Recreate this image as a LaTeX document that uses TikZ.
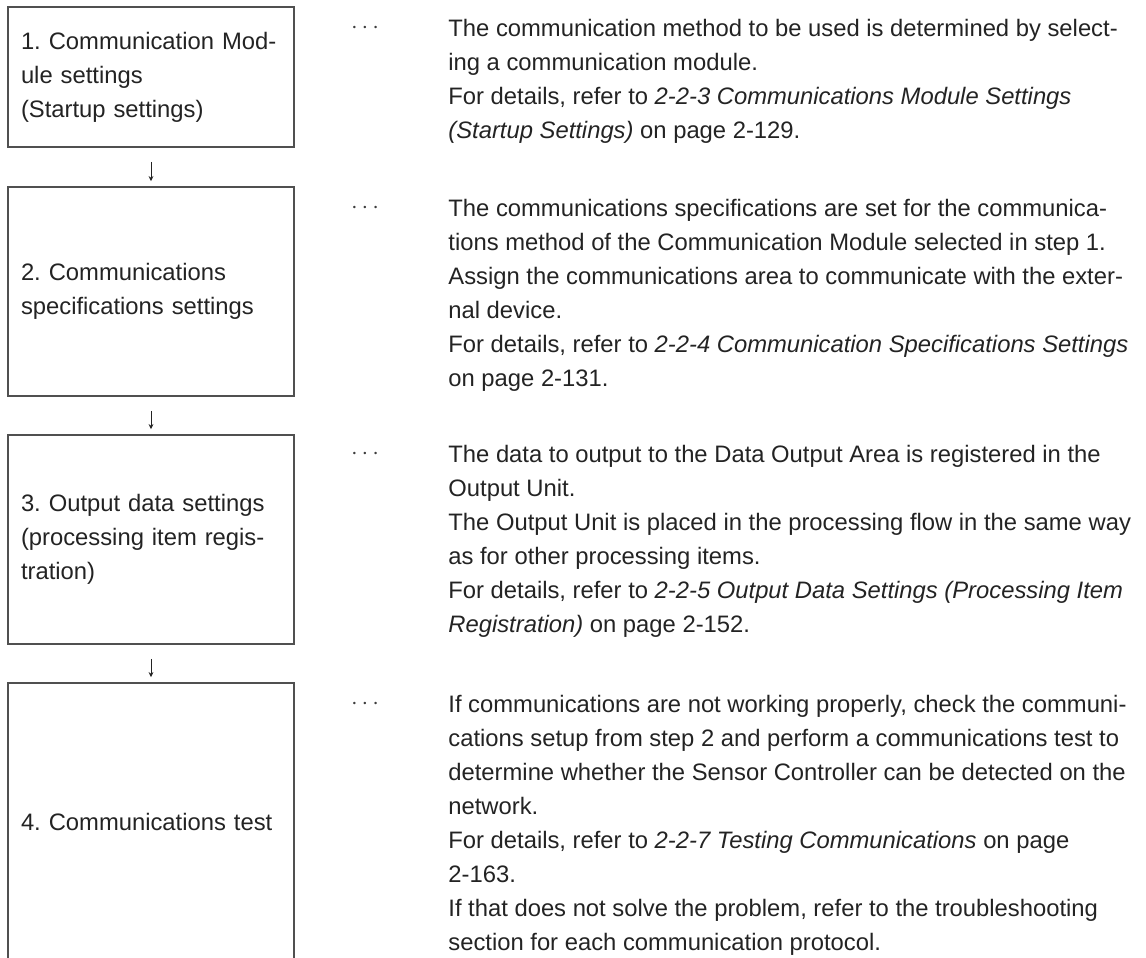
\documentclass[tikz,border=0pt]{standalone}
\usepackage{fontspec}
\setmainfont{Liberation Sans}
\usepackage{xcolor}
\usetikzlibrary{arrows.meta, positioning}
\definecolor{BoxLine}{RGB}{80,80,80}
\definecolor{TextDark}{RGB}{35,35,35}
\definecolor{DotGray}{RGB}{60,60,60}
\frenchspacing

\begin{document}
\begin{tikzpicture}[
        x=0.5pt, y=-0.5pt,
        every node/.style={text=TextDark},
        stepbox/.style={draw=BoxLine, line width=0.75pt, inner xsep=6.5pt,
                        minimum width=143pt, text width=130pt, align=left,
                        font=\fontsize{11.9}{17}\selectfont},
        note/.style={anchor=north west, inner sep=0pt, align=left,
                     font=\fontsize{11.9}{17}\selectfont},
        dots/.style={anchor=base, inner sep=0pt, text=DotGray,
                     font=\fontsize{12}{12}\selectfont},
        flow/.style={draw=TextDark, line width=0.5pt,
                     -{Stealth[length=2.6pt,width=2.4pt]},
                     shorten <=7pt, shorten >=2.5pt}
      ]
        \clip (0,0) rectangle (1146,958);
        % steps
        \node[stepbox, minimum height=70pt] (b1) at (151,77)
          {1. Communication Mod-\\ule settings\\(Startup settings)};
        \node[stepbox, minimum height=104.5pt] (b2) at (151,291.5)
          {2. Communications\\specifications settings};
        \node[stepbox, minimum height=104.5pt] (b3) at (151,539.5)
          {3. Output data settings\\(processing item regis-\\tration)};
        \node[stepbox, minimum height=139pt] (b4) at (151,822)
          {4. Communications test};
        \draw[flow] (b1) -- (b2);
        \draw[flow] (b2) -- (b3);
        \draw[flow] (b3) -- (b4);
        % explanations
        \node[dots] (d1) at (365,33) {$\cdots$};
        \node[note] (n1) at (448,19)
          {The communication method to be used is determined by select-\\
           ing a communication module.\\
           For details, refer to \textit{2-2-3 Communications Module Settings}\\
           \textit{(Startup Settings)} on page 2-129.};
        \node[dots] (d2) at (365,213) {$\cdots$};
        \node[note] (n2) at (448,199)
          {The communications specifications are set for the communica-\\
           tions method of the Communication Module selected in step 1.\\
           Assign the communications area to communicate with the exter-\\
           nal device.\\
           For details, refer to \textit{2-2-4 Communication Specifications Settings}\\
           on page 2-131.};
        \node[dots] (d3) at (365,459) {$\cdots$};
        \node[note] (n3) at (448,445)
          {The data to output to the Data Output Area is registered in the\\
           Output Unit.\\
           The Output Unit is placed in the processing flow in the same way\\
           as for other processing items.\\
           For details, refer to \textit{2-2-5 Output Data Settings (Processing Item}\\
           \textit{Registration)} on page 2-152.};
        \node[dots] (d4) at (365,709) {$\cdots$};
        \node[note] (n4) at (448,695)
          {If communications are not working properly, check the communi-\\
           cations setup from step 2 and perform a communications test to\\
           determine whether the Sensor Controller can be detected on the\\
           network.\\
           For details, refer to \textit{2-2-7 Testing Communications} on page\\
           2-163.\\
           If that does not solve the problem, refer to the troubleshooting\\
           section for each communication protocol.};
      \end{tikzpicture}
\end{document}
